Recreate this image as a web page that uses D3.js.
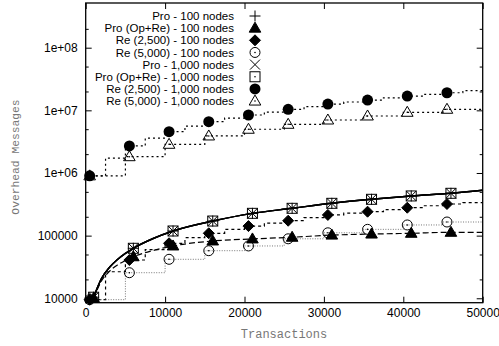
<!DOCTYPE html>
<html><head><meta charset="utf-8">
<script src="https://cdn.jsdelivr.net/npm/d3@7"></script>
<style>body{margin:0;background:#fff} svg{display:block}</style>
</head><body><svg id="c" width="499" height="346"></svg>
<script>
// ---- axis ticks ----
const xTickValues = [0, 10000, 20000, 30000, 40000, 50000];
const yMajorTicks = [1e4, 1e5, 1e6, 1e7, 1e8];
const yMajorLabels = ["10000", "100000", "1e+06", "1e+07", "1e+08"];
const yMinorTicks = [2e4, 5e4, 2e5, 5e5, 2e6, 5e6, 2e7, 5e7, 2e8];

// ---- legend labels ----
const seriesNames = [
  "Pro - 100 nodes",
  "Pro (Op+Re) - 100 nodes",
  "Re (2,500) - 100 nodes",
  "Re (5,000) - 100 nodes",
  "Pro - 1,000 nodes",
  "Pro (Op+Re) - 1,000 nodes",
  "Re (2,500) - 1,000 nodes",
  "Re (5,000) - 1,000 nodes"
];

// ---- Pro-type series (smooth lines) ----
const proLineX = [1000, 2000, 3000, 4000, 5000, 6000, 8500, 11000, 16000, 21000, 26000, 31000, 36000, 41000, 46000, 50000];
const pro100 = [10400, 20800, 31200, 41600, 52000, 62800, 90000, 118600, 171000, 227000, 273000, 328000, 380000, 430000, 474000, 530000];
const proOpRe100 = [10000, 19000, 27000, 34000, 40000, 46000, 58000, 68400, 82200, 88600, 94200, 102000, 106000, 109000, 113000, 113000];
const pro1000 = [10400, 20800, 31200, 41600, 52000, 62800, 90000, 118600, 171000, 227000, 273000, 328000, 380000, 430000, 474000, 530000];
const proOpRe1000 = [10400, 20800, 31200, 41600, 52000, 62800, 90000, 118600, 171000, 227000, 273000, 328000, 380000, 430000, 474000, 530000];
const proMarkX = [1000, 6000, 11000, 16000, 21000, 26000, 31000, 36000, 41000, 46000];

// ---- Re-type series (step lines) ----
const step2500X = [0, 2500, 5000, 7500, 10000, 12500, 15000, 17500, 20000, 22500, 25000, 27500, 30000, 32500, 35000, 37500, 40000, 42500, 45000, 47500, 50000];
const re2500_100 = [9500, 26500, 40800, 60000, 75500, 93000, 109000, 126000, 142000, 158000, 173000, 194000, 214000, 228000, 241000, 260000, 279000, 300000, 320000, 336000, 336000];
const re2500_1000 = [900000, 1.73e6, 2.70e6, 3.6e6, 4.56e6, 5.6e6, 6.59e6, 7.5e6, 8.43e6, 9.4e6, 1.04e7, 1.15e7, 1.26e7, 1.36e7, 1.46e7, 1.58e7, 1.69e7, 1.80e7, 1.91e7, 2.06e7, 2.06e7];
const step5000X = [0, 5000, 10000, 15000, 20000, 25000, 30000, 35000, 40000, 45000, 50000];
const re5000_100 = [9500, 25600, 41900, 57500, 68400, 89000, 111000, 126000, 148000, 165000, 165000];
const re5000_1000 = [900000, 1.82e6, 2.87e6, 3.90e6, 4.99e6, 5.99e6, 7.01e6, 8.13e6, 9.31e6, 1.04e7, 1.04e7];
const reMarkX = [500, 5500, 10500, 15500, 20500, 25500, 30500, 35500, 40500, 45500];

const svg = d3.select("#c");
const x = d3.scaleLinear().domain([0, 50000]).range([85.7, 482.7]);
const y = d3.scaleLog().domain([8500, 5.17e8]).range([302.7, 3]);

const tickFont = "'Liberation Sans', Arial, Helvetica, sans-serif";
const monoFont = "'Liberation Mono', 'DejaVu Sans Mono', monospace";

// clip
svg.append("clipPath").attr("id", "clip").append("rect")
  .attr("x", x(0)).attr("y", y.range()[1]).attr("width", x(50000) - x(0)).attr("height", y.range()[0] - y.range()[1]);

// axes
function styleAxis(g) {
  g.select(".domain").remove();
  g.selectAll("line").attr("stroke", "#000").attr("stroke-width", 1);
  g.selectAll("text").attr("font-family", tickFont).attr("font-size", 12).attr("fill", "#000");
}
svg.append("g").attr("transform", `translate(0,${y.range()[0]})`)
  .call(d3.axisBottom(x).tickValues(xTickValues).tickFormat(d3.format("d")).tickSizeInner(-6).tickSizeOuter(0).tickPadding(6))
  .call(styleAxis);
svg.append("g").attr("transform", `translate(0,${y.range()[1]})`)
  .call(d3.axisTop(x).tickValues(xTickValues).tickFormat("").tickSizeInner(-6).tickSizeOuter(0))
  .call(styleAxis);
svg.append("g").attr("transform", `translate(${x(0)},0)`)
  .call(d3.axisLeft(y).tickValues(yMajorTicks).tickFormat((d, i) => yMajorLabels[i]).tickSizeInner(-6).tickSizeOuter(0).tickPadding(8))
  .call(styleAxis);
svg.append("g").attr("transform", `translate(${x(0)},0)`)
  .call(d3.axisLeft(y).tickValues(yMinorTicks).tickFormat("").tickSizeInner(-3).tickSizeOuter(0))
  .call(styleAxis);
svg.append("g").attr("transform", `translate(${x(50000)},0)`)
  .call(d3.axisRight(y).tickValues(yMajorTicks).tickFormat("").tickSizeInner(-6).tickSizeOuter(0))
  .call(styleAxis);
svg.append("g").attr("transform", `translate(${x(50000)},0)`)
  .call(d3.axisRight(y).tickValues(yMinorTicks).tickFormat("").tickSizeInner(-3).tickSizeOuter(0))
  .call(styleAxis);

// frame
svg.append("rect").attr("x", x(0)).attr("y", y.range()[1])
  .attr("width", x(50000) - x(0)).attr("height", y.range()[0] - y.range()[1])
  .attr("fill", "none").attr("stroke", "#000").attr("stroke-width", 1.3);

// titles
svg.append("text").attr("x", 284).attr("y", 338).attr("text-anchor", "middle")
  .attr("font-family", monoFont).attr("font-size", 12).attr("fill", "#777").text("Transactions");
svg.append("text").attr("transform", "translate(19,157) rotate(-90)").attr("text-anchor", "middle")
  .attr("font-family", monoFont).attr("font-size", 11.3).attr("fill", "#777").text("Overhead Messages");

// marker drawing
function marker(g, type, cx, cy) {
  const s = g.append("g").attr("transform", `translate(${cx},${cy})`);
  function ln(x1, y1, x2, y2) { s.append("line").attr("x1", x1).attr("y1", y1).attr("x2", x2).attr("y2", y2).attr("stroke", "#000").attr("stroke-width", 1); }
  function dot() { s.append("circle").attr("r", 0.8).attr("fill", "#000"); }
  switch (type) {
    case "plus": ln(-5.5, 0, 5.5, 0); ln(0, -5.5, 0, 5.5); break;
    case "triFill": s.append("path").attr("d", "M0,-6L5.8,4L-5.8,4Z").attr("fill", "#000").attr("stroke", "#000"); break;
    case "diamond": s.append("path").attr("d", "M0,-5.5L5.5,0L0,5.5L-5.5,0Z").attr("fill", "#000").attr("stroke", "#000"); break;
    case "circleOpen": s.append("circle").attr("r", 5).attr("fill", "none").attr("stroke", "#000").attr("stroke-width", 1); dot(); break;
    case "cross": ln(-5, -5, 5, 5); ln(-5, 5, 5, -5); break;
    case "square": s.append("rect").attr("x", -5).attr("y", -5).attr("width", 10).attr("height", 10).attr("fill", "none").attr("stroke", "#000").attr("stroke-width", 1); dot(); break;
    case "circleFill": s.append("circle").attr("r", 5.5).attr("fill", "#000"); break;
    case "triOpen": s.append("path").attr("d", "M0,-6L5.8,4L-5.8,4Z").attr("fill", "none").attr("stroke", "#000").attr("stroke-width", 1); dot(); break;
  }
}

const plot = svg.append("g").attr("clip-path", "url(#clip)");
const smooth = d3.line().x(d => x(d[0])).y(d => y(d[1])).curve(d3.curveMonotoneX);
const stepped = d3.line().x(d => x(d[0])).y(d => y(d[1])).curve(d3.curveStepAfter);

const series = [
  { xs: proLineX, ys: pro100, kind: "smooth", mx: proMarkX, m: "plus", dash: null, color: "#000", w: 1.4 },
  { xs: proLineX, ys: proOpRe100, kind: "smooth", mx: proMarkX, m: "triFill", dash: "6,3", color: "#000", w: 1.2 },
  { xs: step2500X, ys: re2500_100, kind: "step", mx: reMarkX, m: "diamond", dash: "3,3", color: "#000", w: 1.2 },
  { xs: step5000X, ys: re5000_100, kind: "step", mx: reMarkX, m: "circleOpen", dash: "1,1.5", color: "#777", w: 1 },
  { xs: proLineX, ys: pro1000, kind: "smooth", mx: proMarkX, m: "cross", dash: null, color: "#000", w: 1.4 },
  { xs: proLineX, ys: proOpRe1000, kind: "smooth", mx: proMarkX, m: "square", dash: null, color: "#000", w: 1.4 },
  { xs: step2500X, ys: re2500_1000, kind: "step", mx: reMarkX, m: "circleFill", dash: "2,3", color: "#000", w: 1.2 },
  { xs: step5000X, ys: re5000_1000, kind: "step", mx: reMarkX, m: "triOpen", dash: "2,3", color: "#000", w: 1.2 }
];

series.forEach(s => {
  const pts = s.xs.map((xv, i) => [xv, s.ys[i]]);
  plot.append("path").attr("d", (s.kind === "smooth" ? smooth : stepped)(pts))
    .attr("fill", "none").attr("stroke", s.color).attr("stroke-width", s.w)
    .attr("stroke-dasharray", s.dash);
  const mg = svg.append("g");
  s.mx.forEach(mx => {
    let v;
    if (s.kind === "smooth") v = s.ys[s.xs.indexOf(mx)];
    else v = s.ys[d3.bisectRight(s.xs, mx) - 1];
    marker(mg, s.m, x(mx), y(v));
  });
});

// legend
const legend = svg.append("g");
seriesNames.forEach((name, i) => {
  const ly = 16 + i * 12.15;
  legend.append("text").attr("x", 234).attr("y", ly).attr("dy", "0.36em").attr("text-anchor", "end")
    .attr("font-family", tickFont).attr("font-size", 11.5).attr("fill", "#000").text(name);
  marker(legend, series[i].m, 255, ly);
});
</script>
</body></html>
